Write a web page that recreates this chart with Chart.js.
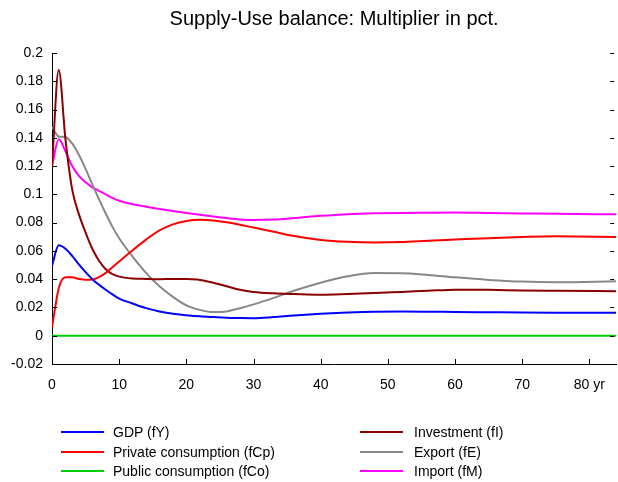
<!DOCTYPE html>
<html>
<head>
<meta charset="utf-8">
<script src="https://cdn.jsdelivr.net/npm/chart.js@4"></script>
<style>
  html, body { margin: 0; padding: 0; background: #fff; }
  #wrap { position: relative; width: 618px; height: 482px; overflow: hidden; }
  #c { position: absolute; left: 0; top: 0; }
  .leg { position: absolute; font-family: "Liberation Sans", Arial, sans-serif; font-size: 14px; color: #000; white-space: nowrap; line-height: 16px; }
  .leg .ln { position: absolute; height: 2px; top: 7px; }
  .leg .tx { position: absolute; top: 0; }
</style>
</head>
<body>
<div id="wrap">
  <canvas id="c" width="618" height="482"></canvas>
  <div id="legend"></div>
</div>
<script>
const title = "Supply-Use balance: Multiplier in pct.";
const years = [0,1,2,3,4,5,6,7,8,9,10,12,14,16,18,20,22,24,26,28,30,33,36,40,44,48,52,56,60,65,70,75,84];
const yTicks = [-0.02,0,0.02,0.04,0.06,0.08,0.1,0.12,0.14,0.16,0.18,0.2];
const xTicks = [0,10,20,30,40,50,60,70,80];

const gdp = [0.0495,0.064,0.0615,0.0565,0.0505,0.045,0.040,0.036,0.0325,0.0292,0.0263,0.0228,0.0195,0.0172,0.0155,0.0145,0.0137,0.0132,0.0128,0.0125,0.0124,0.0132,0.0143,0.0155,0.0164,0.0170,0.0171,0.0170,0.0168,0.0166,0.0164,0.0163,0.0162];
const privCons = [0.006,0.0336,0.0413,0.0413,0.0402,0.0396,0.0398,0.0415,0.0445,0.0485,0.0525,0.0605,0.068,0.0745,0.0788,0.0812,0.082,0.0815,0.0802,0.0785,0.0765,0.0735,0.0705,0.0678,0.0665,0.066,0.0663,0.0672,0.068,0.069,0.0698,0.0703,0.0699];
const pubCons = [0,0,0,0,0,0,0,0,0,0,0,0,0,0,0,0,0,0,0,0,0,0,0,0,0,0,0,0,0,0,0,0,0];
const investment = [0.12,0.188,0.139,0.1035,0.086,0.073,0.0615,0.053,0.047,0.0435,0.0418,0.0405,0.0402,0.040,0.0402,0.0401,0.0395,0.0375,0.035,0.0325,0.031,0.030,0.0295,0.029,0.0295,0.0302,0.031,0.0318,0.0326,0.0325,0.032,0.0318,0.0315];
const exportS = [0.1477,0.141,0.1406,0.136,0.128,0.118,0.107,0.0965,0.0865,0.077,0.069,0.056,0.0445,0.035,0.0275,0.0215,0.0183,0.0167,0.0172,0.0195,0.0222,0.0268,0.0318,0.0375,0.042,0.0443,0.0442,0.043,0.0413,0.0395,0.0383,0.0379,0.0385];
const importS = [0.12,0.139,0.1305,0.12,0.113,0.1085,0.105,0.1025,0.1,0.0975,0.0955,0.093,0.0913,0.0897,0.0882,0.0868,0.0855,0.0843,0.0832,0.0823,0.0819,0.0822,0.0832,0.0848,0.086,0.0866,0.0869,0.087,0.0871,0.0868,0.0865,0.0862,0.0859];

const seriesNames = ["GDP (fY)","Private consumption (fCp)","Public consumption (fCo)","Investment (fI)","Export (fE)","Import (fM)"];
const seriesData = [gdp, privCons, pubCons, investment, exportS, importS];
const seriesColors = ["#0000ff","#ff0000","#00cc00","#8b0000","#888888","#ff00ff"];

const FONT = "'Liberation Sans', Arial, Helvetica, sans-serif";

const datasets = seriesNames.map((name, i) => ({
  label: name,
  data: years.map((yr, j) => ({x: yr, y: seriesData[i][j]})),
  borderColor: seriesColors[i],
  backgroundColor: seriesColors[i],
  borderWidth: 2,
  pointRadius: 0,
  fill: false,
  cubicInterpolationMode: 'monotone'
}));

const innerTicks = {
  id: 'innerTicks',
  afterDraw(chart) {
    const ctx = chart.ctx, a = chart.chartArea;
    const xs = chart.scales.x, ys = chart.scales.y;
    ctx.save();
    ctx.strokeStyle = '#000';
    ctx.lineWidth = 1;
    ctx.beginPath();
    yTicks.forEach(v => {
      const py = Math.round(ys.getPixelForValue(v)) + 0.5;
      ctx.moveTo(a.left, py); ctx.lineTo(a.left + 5, py);
      ctx.moveTo(a.right - 6, py); ctx.lineTo(a.right - 2, py);
    });
    xTicks.forEach(v => {
      if (v === 0) return;
      const px = Math.round(xs.getPixelForValue(v)) + 0.5;
      ctx.moveTo(px, a.bottom); ctx.lineTo(px, a.bottom - 5);
    });
    ctx.stroke();
    ctx.restore();
  }
};

const chart = new Chart(document.getElementById('c'), {
  type: 'line',
  data: { datasets },
  options: {
    responsive: false,
    animation: false,
    layout: { padding: { left: 0, right: 0, top: 0, bottom: 0 } },
    plugins: {
      legend: { display: false },
      tooltip: { enabled: false },
      title: {
        display: true,
        text: title,
        fullSize: false,
        color: '#000',
        font: { family: FONT, size: 20, weight: 'normal' },
        padding: { top: 7, bottom: 22 }
      }
    },
    scales: {
      x: {
        type: 'linear',
        min: 0,
        max: 84,
        afterFit: s => { s.height = 118; },
        afterBuildTicks: s => { s.ticks = xTicks.map(v => ({value: v})); },
        ticks: {
          autoSkip: false,
          maxRotation: 0,
          padding: 13,
          color: '#000',
          font: { family: FONT, size: 14 },
          callback: v => v === 80 ? '80 yr' : String(v)
        },
        grid: { display: false, drawTicks: false },
        border: { display: true, color: '#000', width: 1 }
      },
      y: {
        type: 'linear',
        min: -0.02,
        max: 0.2,
        afterFit: s => { s.width = 52; },
        afterBuildTicks: s => { s.ticks = yTicks.map(v => ({value: v})); },
        ticks: {
          autoSkip: false,
          padding: 9,
          color: '#000',
          font: { family: FONT, size: 14 },
          callback: v => String(parseFloat(v.toFixed(2)))
        },
        grid: { display: false, drawTicks: false },
        border: { display: true, color: '#000', width: 1 }
      }
    }
  },
  plugins: [innerTicks]
});

// HTML legend in two columns, built from the datasets
const legendEl = document.getElementById('legend');
const colX = [{line: 61, text: 113}, {line: 360, text: 414}];
const rowY = [432, 451.5, 471];
chart.data.datasets.forEach((ds, i) => {
  const col = Math.floor(i / 3), row = i % 3;
  const item = document.createElement('div');
  item.className = 'leg';
  item.style.left = '0px';
  item.style.top = (rowY[row] - 8) + 'px';
  item.style.width = '618px';
  item.style.height = '16px';
  const ln = document.createElement('div');
  ln.className = 'ln';
  ln.style.left = colX[col].line + 'px';
  ln.style.width = '43px';
  ln.style.background = ds.borderColor;
  const tx = document.createElement('div');
  tx.className = 'tx';
  tx.style.left = colX[col].text + 'px';
  tx.textContent = ds.label;
  item.appendChild(ln); item.appendChild(tx);
  legendEl.appendChild(item);
});
</script>
</body>
</html>
